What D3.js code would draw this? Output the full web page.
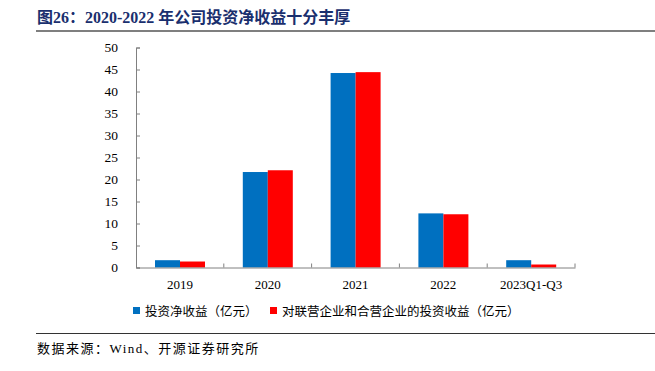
<!DOCTYPE html>
<html>
<head>
<meta charset="utf-8">
<script src="https://cdn.jsdelivr.net/npm/d3@7"></script>
<style>
  body { margin: 0; background: #fff; }
  svg text { font-family: "Liberation Serif", "Noto Sans CJK SC", serif; }
</style>
</head>
<body>
<script>
// chart data
const categories = ['2019', '2020', '2021', '2022', '2023Q1-Q3']
const seriesNames = ['投资净收益（亿元）', '对联营企业和合营企业的投资收益（亿元）']
const netInvestIncome = [1.66, 21.7, 44.2, 12.3, 1.66]
const associateIncome = [1.36, 22.1, 44.4, 12.1, 0.68]
const yTicks = [0, 5, 10, 15, 20, 25, 30, 35, 40, 45, 50]
const colors = ['#0070C0', '#FF0000']

const w = 655, h = 371
const svg = d3.select('body').append('svg')
  .attr('width', w).attr('height', h)

// title + rules
svg.append('text')
  .attr('x', 37).attr('y', 23)
  .attr('fill', '#1a2f6e')
  .attr('font-size', 16).attr('font-weight', 'bold')
  .text('图26：2020-2022 年公司投资净收益十分丰厚')
svg.append('line')
  .attr('x1', 36).attr('x2', 655).attr('y1', 31).attr('y2', 31)
  .attr('stroke', '#7f7f7f').attr('stroke-width', 2)
svg.append('line')
  .attr('x1', 36).attr('x2', 655).attr('y1', 333.5).attr('y2', 333.5)
  .attr('stroke', '#333').attr('stroke-width', 1)
svg.append('text')
  .attr('x', 37).attr('y', 353)
  .attr('font-size', 13).attr('fill', '#000')
  .attr('letter-spacing', 1.5)
  .text('数据来源：Wind、开源证券研究所')

// scales
const plotL = 136, plotR = 575, plotT = 47.5, plotB = 267.5
const x = d3.scaleBand().domain(categories).range([plotL, plotR])
const inner = d3.scaleBand().domain([0, 1]).range([19, 69])
const y = d3.scaleLinear().domain([0, 50]).range([plotB, plotT])

// bars
const series = [netInvestIncome, associateIncome]
series.forEach((vals, si) => {
  svg.append('g').selectAll('rect')
    .data(vals)
    .enter()
    .append('rect')
    .attr('x', (d, i) => x(categories[i]) + inner(si))
    .attr('width', inner.bandwidth())
    .attr('y', d => y(d))
    .attr('height', d => y(0) - y(d))
    .attr('fill', colors[si])
})

// axes
const yAxis = svg.append('g')
  .attr('transform', `translate(${plotL},0)`)
  .call(d3.axisLeft(y).tickValues(yTicks).tickSize(-4).tickPadding(18))
yAxis.selectAll('text').attr('font-size', 13.5).attr('fill', '#000')
yAxis.selectAll('line').attr('stroke', '#808080')
yAxis.select('.domain').attr('stroke', '#808080')

const xAxis = svg.append('g')
  .attr('transform', `translate(0,${plotB})`)
  .call(d3.axisBottom(x).tickSize(0).tickPadding(12))
xAxis.selectAll('text').attr('font-size', 13).attr('fill', '#000')
xAxis.select('.domain').attr('stroke', '#808080')
// category separators
svg.append('g').selectAll('line')
  .data(categories)
  .enter()
  .append('line')
  .attr('x1', d => x(d) + x.step())
  .attr('x2', d => x(d) + x.step())
  .attr('y1', plotB).attr('y2', plotB - 4)
  .attr('stroke', '#808080')

// legend
const legendX = [133, 270]
seriesNames.forEach((name, i) => {
  svg.append('rect')
    .attr('x', legendX[i]).attr('y', 307)
    .attr('width', 7).attr('height', 7)
    .attr('fill', colors[i])
  svg.append('text')
    .attr('x', legendX[i] + 12).attr('y', 315.5)
    .attr('font-size', 12.5).attr('fill', '#000')
    .text(name)
})
</script>
</body>
</html>
